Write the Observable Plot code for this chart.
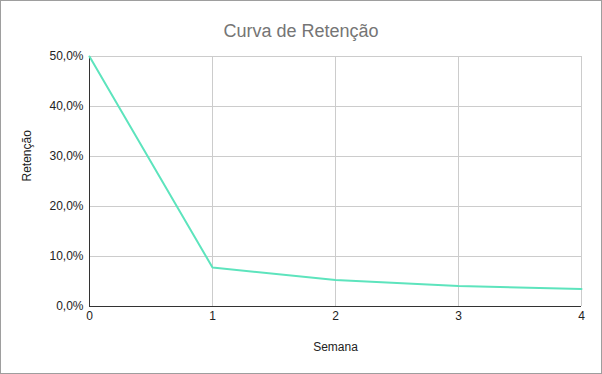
<!DOCTYPE html>
<html><head><meta charset="utf-8">
<script src="https://cdn.jsdelivr.net/npm/d3@7"></script>
<script src="https://cdn.jsdelivr.net/npm/@observablehq/plot@0.6"></script>
<style>
body{margin:0;background:#fff;font-family:Arial,"Liberation Sans",sans-serif;}
#wrap{position:relative;width:600px;height:372px;border:1px solid #9e9e9e;overflow:hidden;}
#title{height:46px;line-height:60px;text-align:center;font-size:18px;color:#757575;}
</style></head>
<body><div id="wrap"><div id="title">Curva de Retenção</div><div id="chart"></div></div>
<script>
const semanas = [0, 1, 2, 3, 4];
const retencao = [0.50, 0.078, 0.053, 0.041, 0.035];
const yTicks = [0, 0.1, 0.2, 0.3, 0.4, 0.5];
const xTicks = [0, 1, 2, 3, 4];

const data = semanas.map((s, i) => ({semana: s, retencao: retencao[i]}));
const fmt = v => (v * 100).toFixed(1).replace(".", ",") + "%";

const chart = Plot.plot({
  width: 600, height: 326,
  marginTop: 9, marginBottom: 67, marginLeft: 88, marginRight: 20,
  style: {fontFamily: "Arial, 'Liberation Sans', sans-serif", fontSize: "12px", color: "#222"},
  x: {domain: [0, 4], ticks: xTicks, tickFormat: d => String(d), label: null, tickSize: 0, tickPadding: 5},
  y: {domain: [0, 0.5], ticks: yTicks, tickFormat: fmt, label: null, tickSize: 0, tickPadding: 6},
  marks: [
    Plot.gridX(xTicks, {stroke: "#cccccc", strokeOpacity: 1}),
    Plot.gridY(yTicks, {stroke: "#cccccc", strokeOpacity: 1}),
    Plot.axisX({ticks: xTicks, tickSize: 0, tickPadding: 5, tickFormat: d => String(d), label: null, fontSize: 12}),
    Plot.axisY({ticks: yTicks, tickSize: 0, tickPadding: 6, tickFormat: fmt, label: null, fontSize: 12}),
    Plot.ruleY([0], {stroke: "#333"}),
    Plot.ruleX([0], {stroke: "#333"}),
    Plot.line(data, {x: "semana", y: "retencao", stroke: "#5de4bd", strokeWidth: 2}),
    Plot.text(["Semana"], {frameAnchor: "bottom", dy: 44, fontSize: 12, fill: "#222"}),
    Plot.text(["Retenção"], {frameAnchor: "left", dx: -62, rotate: -90, fontSize: 12, fill: "#222"})
  ]
});
document.getElementById("chart").appendChild(chart);
</script></body></html>
